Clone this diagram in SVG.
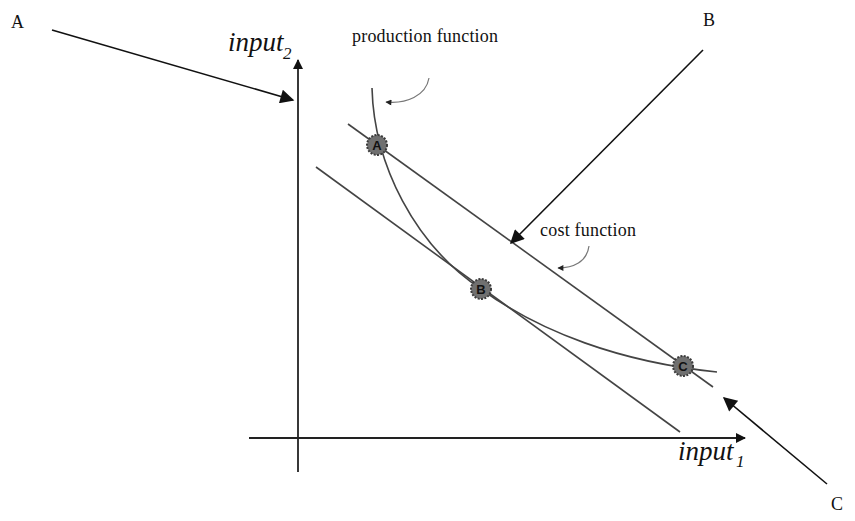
<svg xmlns="http://www.w3.org/2000/svg" width="855" height="521" viewBox="0 0 855 521">
<style>
.ax{stroke:#222;stroke-width:1.8;fill:none}
.ln{stroke:#444;stroke-width:1.6;fill:none}
.ar{stroke:#111;stroke-width:1.6;fill:none}
.thin{stroke:#777;stroke-width:1.2;fill:none}
.lbl{font-family:"Liberation Serif",serif;font-size:18px;fill:#111}
.big{font-family:"Liberation Serif",serif;font-style:italic;font-size:27px;fill:#111}
.sub{font-family:"Liberation Serif",serif;font-style:italic;font-size:17px;fill:#111}
.pt{fill:#707070;stroke:#3a3a3a;stroke-width:2;stroke-dasharray:2 1.4}
.ptl{font-family:"Liberation Sans",Arial,sans-serif;font-weight:bold;font-size:13px;fill:#111;text-anchor:middle}
</style>
<defs>
<marker id="ah" viewBox="0 0 10 10" refX="9" refY="5" markerWidth="12" markerHeight="10" markerUnits="userSpaceOnUse" orient="auto"><path d="M0,0 L10,5 L0,10 z" fill="#111"/></marker>
<marker id="big" viewBox="0 0 10 10" refX="9" refY="5" markerWidth="20" markerHeight="14" markerUnits="userSpaceOnUse" orient="auto"><path d="M0,0 L10,5 L0,10 z" fill="#111"/></marker>
<marker id="sm" viewBox="0 0 10 10" refX="9" refY="5" markerWidth="8" markerHeight="6" markerUnits="userSpaceOnUse" orient="auto"><path d="M0,0 L10,5 L0,10 z" fill="#222"/></marker>
</defs>
<rect width="855" height="521" fill="#fff"/>
<g id="connectors">
<line class="ax" x1="298" y1="472" x2="298" y2="60" marker-end="url(#ah)"/>
<line class="ax" x1="249" y1="438" x2="745" y2="438" marker-end="url(#ah)"/>
<line class="ln" x1="348" y1="124" x2="713" y2="387"/>
<line class="ln" x1="316" y1="167" x2="680" y2="432"/>
<path class="ln" d="M372,88 C374,165 415,245 481,289 C540,332 620,362 717,372"/>
<line class="ar" x1="52" y1="30" x2="293" y2="100" marker-end="url(#big)"/>
<line class="ar" x1="703" y1="50" x2="511" y2="243" marker-end="url(#big)"/>
<line class="ar" x1="827" y1="484" x2="724" y2="398" marker-end="url(#big)"/>
<path class="thin" d="M429,78 C426,96 406,104 386,102" marker-end="url(#sm)"/>
<path class="thin" d="M589,246 C587,262 573,268 558,268" marker-end="url(#sm)"/>
</g>
<g id="labelA"><text class="lbl" x="11" y="28">A</text></g>
<g id="labelB"><text class="lbl" x="703" y="26">B</text></g>
<g id="labelC"><text class="lbl" x="831" y="510">C</text></g>
<g id="input2"><text class="big" x="228" y="51">input</text><text class="sub" x="283" y="59">2</text></g>
<g id="input1"><text class="big" x="678" y="460">input</text><text class="sub" x="736" y="467">1</text></g>
<g id="production"><text class="lbl" x="352" y="42" textLength="146">production function</text></g>
<g id="cost"><text class="lbl" x="540" y="236" textLength="96">cost function</text></g>
<g id="pointA"><circle class="pt" cx="377" cy="145" r="10"/><text class="ptl" x="377" y="150">A</text></g>
<g id="pointB"><circle class="pt" cx="481" cy="289" r="10"/><text class="ptl" x="481" y="294">B</text></g>
<g id="pointC"><circle class="pt" cx="683" cy="366" r="10"/><text class="ptl" x="683" y="371">C</text></g>
</svg>
